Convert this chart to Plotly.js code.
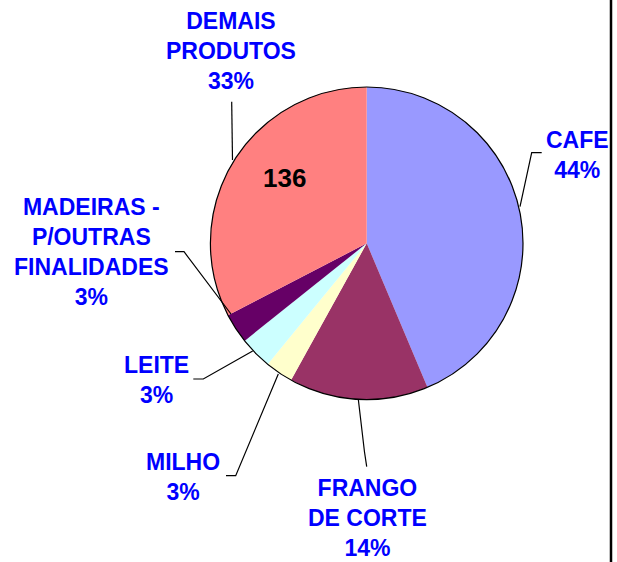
<!DOCTYPE html>
<html>
<head>
<meta charset="utf-8">
<script src="https://cdn.plot.ly/plotly-3.0.1.min.js"></script>
<style>html,body{margin:0;padding:0;background:#fff;}#chart{width:617px;height:562px;}</style>
</head>
<body>
<div id="chart"></div>
<script>
// Data
var categories = ["CAFE", "FRANGO DE CORTE", "MILHO", "LEITE", "MADEIRAS - P/OUTRAS FINALIDADES", "DEMAIS PRODUTOS"];
var labelLines = [["CAFE"], ["FRANGO", "DE CORTE"], ["MILHO"], ["LEITE"], ["MADEIRAS -", "P/OUTRAS", "FINALIDADES"], ["DEMAIS", "PRODUTOS"]];
var values = [182, 60, 12, 14, 13, 136];
var colors = ["#9999FF", "#993366", "#FFFFCC", "#CCFFFF", "#660066", "#FF8080"];
var valueShownIndex = 5;

var W = 617, H = 562;
var cx = 366.7, cy = 243.3, r = 156.3;

var total = values.reduce(function(a, b){ return a + b; }, 0);

// label placement (pixels), leader lines
var labelPos = [[577, 155], [367, 518], [183, 477], [156, 380], [91, 252], [231, 51]];
var leaders = [
  "M541.7,152.7 L531.7,152.7 L520,206.7",
  "M358.3,399.3 L364.5,452 L366.7,466.7",
  "M226,475.7 L235.7,475.7 L278.3,374",
  "M193.3,379 L203.3,379 L252.7,351",
  "M175,251.7 L184,251.7 L231,314",
  "M231.7,101.7 L232.5,160"
];

var dom = {x: [(cx - r) / W, (cx + r) / W], y: [(H - cy - r) / H, (H - cy + r) / H]};

var pie = {
  type: "pie",
  values: values,
  labels: categories,
  marker: {colors: colors, line: {width: 0}},
  sort: false,
  direction: "clockwise",
  rotation: 0,
  textinfo: "none",
  hoverinfo: "label+value+percent",
  domain: dom,
  showlegend: false
};
var outline = {
  type: "pie",
  values: [1],
  labels: ["outline"],
  marker: {colors: ["rgba(0,0,0,0)"], line: {color: "#000", width: 1.2}},
  sort: false,
  textinfo: "none",
  hoverinfo: "skip",
  domain: dom,
  showlegend: false
};

var annotations = categories.map(function(c, i) {
  var pct = Math.round(values[i] / total * 100) + "%";
  return {
    xref: "x", yref: "y", x: labelPos[i][0], y: labelPos[i][1],
    xanchor: "center", yanchor: "middle",
    text: labelLines[i].concat([pct]).join("<br>"),
    showarrow: false,
    align: "center",
    font: {family: "Liberation Sans, Arial, sans-serif", size: 23, color: "#0000FF", weight: "bold"}
  };
});
annotations.push({
  xref: "x", yref: "y", x: 284, y: 178, xanchor: "center", yanchor: "middle",
  text: String(values[valueShownIndex]), showarrow: false,
  font: {family: "Liberation Sans, Arial, sans-serif", size: 26, color: "#000", weight: "bold"}
});

var shapes = leaders.map(function(p) {
  return {type: "path", xref: "x", yref: "y", path: p, line: {color: "#000", width: 1.2}, layer: "above"};
});
shapes.push({type: "line", xref: "x", yref: "y", x0: 611, x1: 611, y0: 0, y1: H, line: {color: "#000", width: 2.5}, layer: "above"});

var layout = {
  width: W, height: H,
  margin: {l: 0, r: 0, t: 0, b: 0},
  paper_bgcolor: "#fff", plot_bgcolor: "rgba(0,0,0,0)",
  xaxis: {range: [0, W], visible: false, fixedrange: true},
  yaxis: {range: [H, 0], visible: false, fixedrange: true},
  annotations: annotations,
  shapes: shapes,
  showlegend: false
};

Plotly.newPlot("chart", [pie, outline], layout, {displayModeBar: false, staticPlot: true});
</script>
</body>
</html>
